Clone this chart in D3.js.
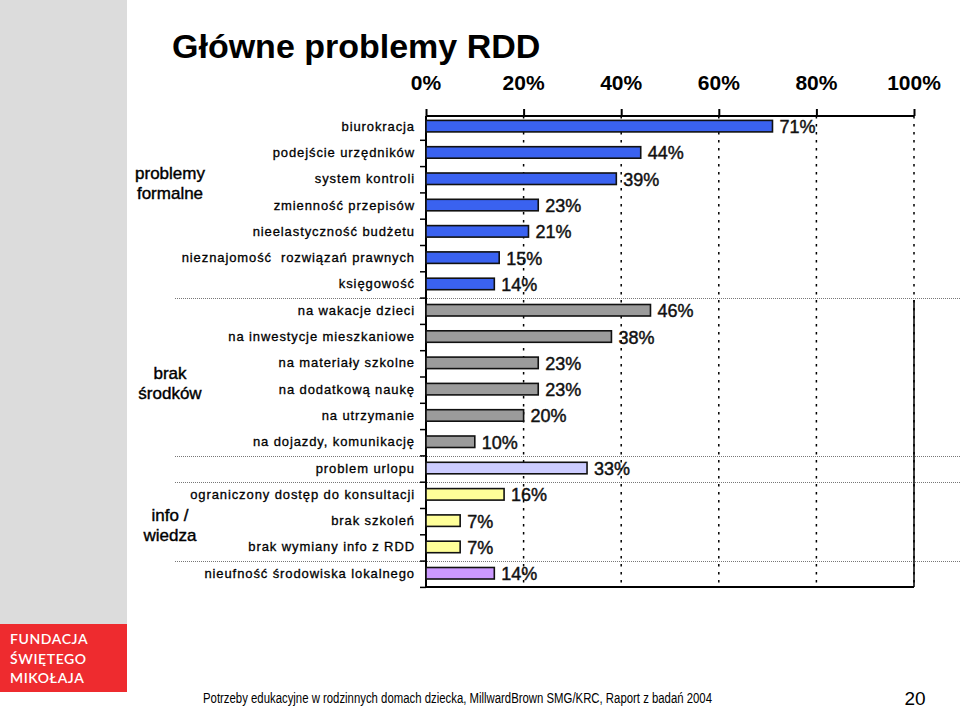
<!DOCTYPE html>
<html><head><meta charset="utf-8">
<script src="https://cdn.jsdelivr.net/npm/d3@7"></script>
<style>body{margin:0;background:#fff;}svg{display:block;font-family:"Liberation Sans",Arial,sans-serif;}</style>
</head><body>
<svg id="c" width="960" height="709"></svg>
<script>
const categories = ["biurokracja","podejście urzędników","system kontroli","zmienność przepisów","nieelastyczność budżetu","nieznajomość  rozwiązań prawnych","księgowość","na wakacje dzieci","na inwestycje mieszkaniowe","na materiały szkolne","na dodatkową naukę","na utrzymanie","na dojazdy, komunikację","problem urlopu","ograniczony dostęp do konsultacji","brak szkoleń","brak wymiany info z RDD","nieufność środowiska lokalnego"];
const values = [71,44,39,23,21,15,14,46,38,23,23,20,10,33,16,7,7,14];
const groupOf = ["formal","formal","formal","formal","formal","formal","formal","money","money","money","money","money","money","leave","info","info","info","trust"];
const groupNames = ["formal","money","leave","info","trust"];
const groupColors = ["#3a62f0","#9b9b9b","#ccccff","#ffff99","#cc99ff"];
const groupLabels = [["problemy","formalne"],["brak","środków"],[],["info /","wiedza"],[]];
const tickValues = [0,20,40,60,80,100];
const separatorsAfter = ["księgowość","na dojazdy, komunikację","problem urlopu","brak wymiany info z RDD"];

const svg = d3.select("#c");
// left gray panel & logo
svg.append("rect").attr("x",0).attr("y",0).attr("width",127).attr("height",624).attr("fill","#dcdcdc");
svg.append("rect").attr("x",0).attr("y",624).attr("width",127).attr("height",68).attr("fill","#ee2b2f");
["FUNDACJA","ŚWIĘTEGO","MIKOŁAJA"].forEach((t,i)=>{
  svg.append("text").attr("x",10).attr("y",644+i*19.5).text(t)
    .attr("fill","#fff").attr("font-family","Lato, 'Open Sans', sans-serif").attr("font-size",14).attr("font-weight",600).attr("letter-spacing",0.6);
});
svg.append("text").attr("x",172).attr("y",58).text("Główne problemy RDD")
  .attr("font-size",34).attr("font-weight","bold").attr("fill","#000");

const x = d3.scaleLinear().domain([0,100]).range([426,914]);
const y = d3.scaleBand().domain(categories).range([114,587.4]).paddingInner(0).paddingOuter(0);
const color = d3.scaleOrdinal().domain(groupNames).range(groupColors);
const bh = 11.5;

// tick labels
svg.append("g").selectAll("text").data(tickValues).join("text")
  .attr("x",d=>x(d)).attr("y",90).attr("text-anchor","middle")
  .attr("font-size",21).attr("font-weight","bold").text(d=>d+"%");

// gridlines
svg.append("g").selectAll("line").data(tickValues.slice(1)).join("line")
  .attr("x1",d=>x(d)).attr("x2",d=>x(d)).attr("y1",116).attr("y2",587)
  .attr("stroke","#000").attr("stroke-width",1.5).attr("stroke-dasharray","2.5,5.5");

// separators
svg.append("g").selectAll("line").data(separatorsAfter).join("line")
  .attr("x1",175).attr("x2",960).attr("y1",d=>Math.round(y(d)+y.step())+0.5).attr("y2",d=>Math.round(y(d)+y.step())+0.5)
  .attr("stroke","#777").attr("stroke-width",1).attr("stroke-dasharray","1,1");

// top axis
const xAxis = d3.axisTop(x).tickValues(tickValues).tickSize(7).tickFormat("");
const gx = svg.append("g").attr("transform","translate(0,116)").call(xAxis);
gx.select(".domain").attr("stroke","#000").attr("stroke-width",2).attr("d","M426,0H914");
gx.selectAll(".tick line").attr("stroke","#000").attr("stroke-width",2);

// bottom & right border
svg.append("line").attr("x1",426).attr("x2",914).attr("y1",587).attr("y2",587).attr("stroke","#000").attr("stroke-width",2);
svg.append("line").attr("x1",914).attr("x2",914).attr("y1",300).attr("y2",587).attr("stroke","#000").attr("stroke-width",1.5);

// left axis with band boundary ticks
const bounds = categories.map(c=>y(c)).concat([y.range()[1]]).slice(1);
svg.append("g").selectAll("line").data(bounds).join("line")
  .attr("x1",420).attr("x2",426).attr("y1",d=>d).attr("y2",d=>d).attr("stroke","#000").attr("stroke-width",1.5);
svg.append("line").attr("x1",426).attr("x2",426).attr("y1",116).attr("y2",587).attr("stroke","#000").attr("stroke-width",2);

// bars
const rows = categories.map((c,i)=>({c,v:values[i],g:groupOf[i]}));
svg.append("g").selectAll("rect").data(rows).join("rect")
  .attr("x",x(0)).attr("y",d=>y(d.c)+y.bandwidth()/2-1-bh/2)
  .attr("width",d=>x(d.v)-x(0)).attr("height",bh)
  .attr("fill",d=>color(d.g)).attr("stroke","#111").attr("stroke-width",1.6);

// value labels
svg.append("g").selectAll("text").data(rows).join("text")
  .attr("x",d=>x(d.v)+7).attr("y",d=>y(d.c)+y.bandwidth()/2+6)
  .attr("font-size",18).attr("fill","#111").attr("stroke","#111").attr("stroke-width",0.45).text(d=>d.v+"%");

// category labels
svg.append("g").selectAll("text").data(rows).join("text")
  .attr("x",415).attr("y",d=>y(d.c)+y.bandwidth()/2+3.5).attr("text-anchor","end")
  .attr("font-size",13).attr("letter-spacing",0.9).attr("fill","#000").attr("stroke","#000").attr("stroke-width",0.3)
  .style("white-space","pre").text(d=>d.c);

// group labels
const groupLabelY = {formal:[179,199], money:[379,399], info:[521,541]};
groupNames.forEach((g,gi)=>{
  groupLabels[gi].forEach((t,li)=>{
    svg.append("text").attr("x",170).attr("y",groupLabelY[g][li]).attr("text-anchor","middle")
      .attr("font-size",17).attr("fill","#000").attr("stroke","#000").attr("stroke-width",0.4).text(t);
  });
});

// footer
svg.append("text").attr("x",203).attr("y",703).text("Potrzeby edukacyjne w rodzinnych domach dziecka, MillwardBrown SMG/KRC, Raport z badań 2004")
  .attr("font-family","'Liberation Sans Narrow','Liberation Sans',Arial,sans-serif").attr("font-size",14)
  .attr("textLength",509).attr("lengthAdjust","spacingAndGlyphs");
svg.append("text").attr("x",915).attr("y",705).attr("text-anchor","middle").attr("font-size",19).text("20");
</script>
</body></html>
